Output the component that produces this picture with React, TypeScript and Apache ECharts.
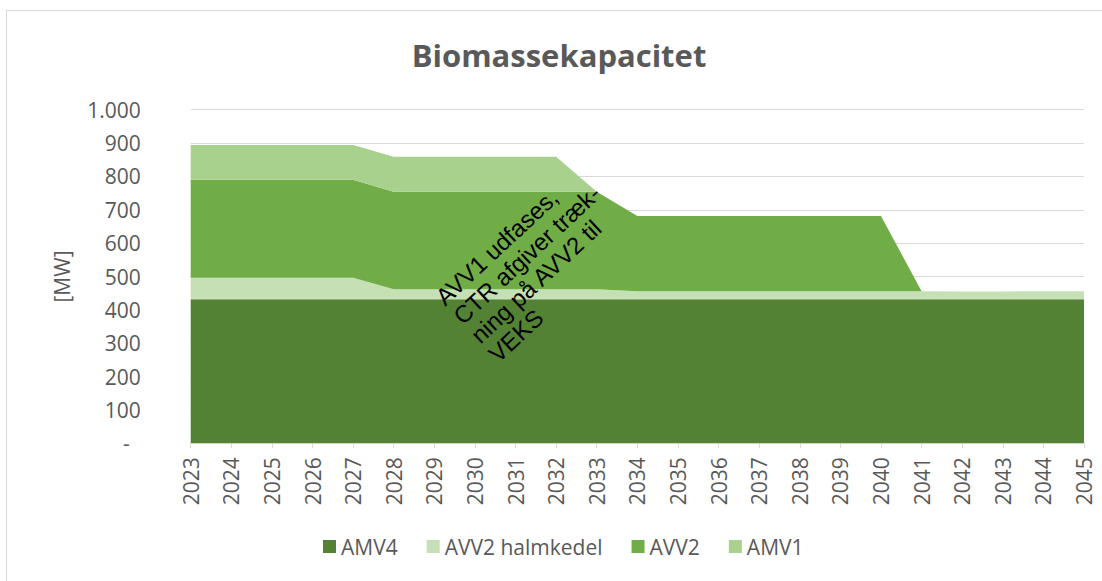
import { useEffect, useRef } from "react";
import * as echarts from "echarts";

const years = [
  "2023", "2024", "2025", "2026", "2027", "2028", "2029", "2030", "2031", "2032", "2033", "2034",
  "2035", "2036", "2037", "2038", "2039", "2040", "2041", "2042", "2043", "2044", "2045",
];
const amv4 = [432, 432, 432, 432, 432, 432, 432, 432, 432, 432, 432, 432, 432, 432, 432, 432, 432, 432, 432, 432, 432, 432, 432];
const avv2Halm = [64, 64, 64, 64, 64, 30, 30, 30, 30, 30, 30, 24, 24, 24, 24, 24, 24, 24, 24, 23, 23, 24, 24];
const avv2 = [294, 294, 294, 294, 294, 292, 292, 292, 292, 292, 292, 225, 225, 225, 225, 225, 225, 225, 0, 0, 0, 0, 0];
const amv1 = [104, 104, 104, 104, 104, 105, 105, 105, 105, 105, 0, 0, 0, 0, 0, 0, 0, 0, 0, 0, 0, 0, 0];

const seriesNames = ["AMV4", "AVV2 halmkedel", "AVV2", "AMV1"];
const seriesColors = ["#548235", "#C5E0B4", "#70AD47", "#A9D18E"];
const seriesData = [amv4, avv2Halm, avv2, amv1];

const titleText = "Biomassekapacitet";
const yAxisTitle = "[MW]";
const noteText = "AVV1 udfases,\nCTR afgiver træk-\nning på AVV2 til\nVEKS";

const FONT = "'Open Sans', sans-serif";
const GREY = "#595959";

export default function App() {
  const ref = useRef<HTMLDivElement>(null);

  useEffect(() => {
    if (!ref.current) return;
    const chart = echarts.init(ref.current, null, { renderer: "svg" });
    chart.setOption({
      animation: false,
      backgroundColor: "#ffffff",
      textStyle: { fontFamily: FONT },
      grid: { left: 183.7, right: 18, top: 98.7, bottom: 137.7, containLabel: false },
      legend: {
        data: seriesNames,
        left: 311,
        top: 520,
        icon: "rect",
        itemWidth: 13,
        itemHeight: 13,
        itemGap: 29,
        textStyle: { fontFamily: FONT, fontSize: 21, color: GREY, padding: [0, 0, 0, 0] },
      },
      xAxis: {
        type: "category",
        data: years,
        boundaryGap: false,
        axisLine: { show: true, lineStyle: { color: "#d9d9d9", width: 1 } },
        axisTick: { show: true, length: 5, lineStyle: { color: "#d9d9d9" } },
        axisLabel: {
          rotate: 90,
          margin: 14,
          fontFamily: FONT,
          fontSize: 21,
          color: GREY,
          interval: 0,
        },
        splitLine: { show: false },
      },
      yAxis: {
        type: "value",
        min: 0,
        max: 1000,
        interval: 100,
        axisLine: { show: false },
        axisTick: { show: false },
        splitLine: { show: true, lineStyle: { color: "#d9d9d9", width: 1 } },
        axisLabel: {
          margin: 50,
          fontFamily: FONT,
          fontSize: 21,
          color: GREY,
          formatter: (v: number) => {
            if (v === 0) return "{d|-}";
            return v >= 1000 ? Math.floor(v / 1000) + "." + String(v % 1000).padStart(3, "0") : String(v);
          },
          rich: {
            d: { fontFamily: FONT, fontSize: 21, color: GREY, padding: [0, 11, 0, 0] },
          },
        },
      },
      graphic: [
        {
          type: "text",
          x: 552,
          y: 44,
          style: {
            text: titleText,
            fontFamily: FONT,
            fontWeight: "bold",
            fontSize: 31,
            fill: GREY,
            align: "center",
            verticalAlign: "middle",
          },
        },
        {
          type: "text",
          x: 55,
          y: 265.5,
          rotation: Math.PI / 2,
          style: {
            text: yAxisTitle,
            fontFamily: FONT,
            fontSize: 21,
            fill: GREY,
            align: "center",
            verticalAlign: "middle",
          },
        },
        {
          type: "text",
          x: 423.5,
          y: 280.1,
          rotation: (43 * Math.PI) / 180,
          z: 100,
          style: {
            text: noteText,
            fontFamily: "'Liberation Sans', Arial, sans-serif",
            fontSize: 24,
            lineHeight: 26,
            fill: "#000000",
            align: "left",
            verticalAlign: "top",
          },
        },
      ],
      series: seriesNames.map((name, i) => ({
        name,
        type: "line",
        stack: "total",
        data: seriesData[i],
        symbol: "none",
        showSymbol: false,
        lineStyle: { width: 0, color: seriesColors[i] },
        itemStyle: { color: seriesColors[i] },
        areaStyle: { color: seriesColors[i], opacity: 1 },
      })),
    });
    return () => chart.dispose();
  }, []);

  return (
    <div
      style={{
        position: "fixed",
        left: 6,
        top: 10,
        width: 1096,
        height: 571,
        borderLeft: "1px solid #d9d9d9",
        borderTop: "1px solid #d9d9d9",
        boxSizing: "border-box",
        background: "#ffffff",
      }}
    >
      <div ref={ref} style={{ width: 1095, height: 570 }} />
    </div>
  );
}
